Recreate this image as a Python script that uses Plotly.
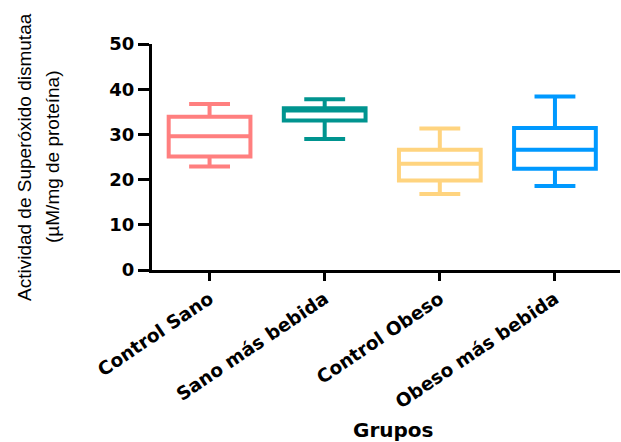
import plotly.graph_objects as go

groups = ["Control Sano", "Sano más bebida", "Control Obeso", "Obeso más bebida"]
lower = [22.9, 29.0, 16.8, 18.6]
q1 = [25.1, 33.1, 19.8, 22.4]
median = [29.6, 35.3, 23.5, 26.6]
q3 = [33.9, 35.8, 26.6, 31.4]
upper = [36.7, 37.8, 31.3, 38.4]
colors = ["#FF7F7F", "#00948F", "#FFD47F", "#0099FF"]
y_ticks = [0, 10, 20, 30, 40, 50]

fig = go.Figure()
for i, g in enumerate(groups):
    fig.add_trace(go.Box(
        x=[g], q1=[q1[i]], median=[median[i]], q3=[q3[i]],
        lowerfence=[lower[i]], upperfence=[upper[i]],
        name=g, width=0.71, whiskerwidth=0.5,
        line=dict(color=colors[i], width=4),
        fillcolor="white", boxpoints=False, showlegend=False,
        hoverinfo="skip",
    ))

xfont = dict(family="DejaVu Sans", size=18.5, color="black", weight="bold")
yfont = dict(family="DejaVu Sans", size=18, color="black", weight="bold")
fig.update_layout(
    width=621, height=442,
    margin=dict(l=152, r=1, t=44, b=172, autoexpand=False),
    paper_bgcolor="white", plot_bgcolor="white",
    boxmode="overlay",
    xaxis=dict(
        type="category", categoryorder="array", categoryarray=groups,
        range=[-0.5, 3.565], showline=True, linecolor="black", linewidth=3,
        ticks="outside", ticklen=8, tickwidth=3, tickcolor="black",
        tickangle=-34, tickfont=xfont, showgrid=False, zeroline=False,
        automargin=False,
    ),
    yaxis=dict(
        range=[0, 50], tickvals=y_ticks, showline=True, linecolor="black", linewidth=3,
        ticks="outside", ticklen=11, tickwidth=3, tickcolor="black",
        tickfont=yfont, showgrid=False, zeroline=False, automargin=False,
    ),
    annotations=[
        dict(text="Actividad de Superóxido dismutaa", xref="paper", yref="paper",
             x=0, y=0.5, xanchor="center", yanchor="middle", xshift=-128,
             textangle=-90, showarrow=False,
             font=dict(family="Liberation Sans", size=19, color="black")),
        dict(text="(µM/mg de proteína)", xref="paper", yref="paper",
             x=0, y=0.5, xanchor="center", yanchor="middle", xshift=-100,
             textangle=-90, showarrow=False,
             font=dict(family="Liberation Sans", size=19, color="black")),
        dict(text="Grupos", xref="paper", yref="paper",
             x=0.5, y=0, xanchor="center", yanchor="middle", xshift=7, yshift=-160,
             showarrow=False,
             font=dict(family="DejaVu Sans", size=20, color="black", weight="bold")),
    ],
)
fig.write_html("out.html", config={"displayModeBar": False},
               post_script="document.body.style.margin='0';")
